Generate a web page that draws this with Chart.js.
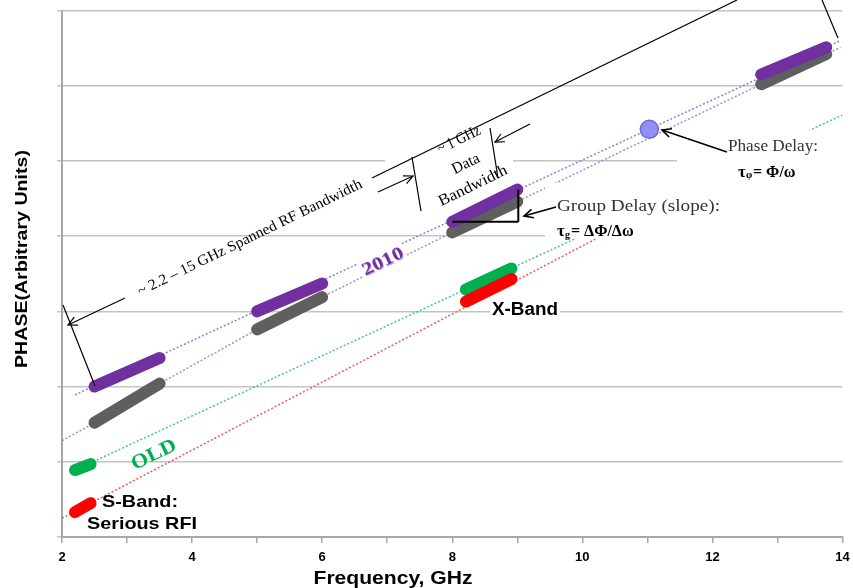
<!DOCTYPE html>
<html>
<head>
<meta charset="utf-8">
<script src="https://cdn.jsdelivr.net/npm/chart.js@4.4.1/dist/chart.umd.min.js"></script>
<style>
  html, body { margin: 0; padding: 0; background: #fff; }
  #wrap { width: 853px; height: 588px; }
</style>
</head>
<body>
<div id="wrap"><canvas id="chart" width="853" height="588"></canvas></div>
<script>
/* ─── Data (GHz / arbitrary phase units) ─────────────────────────────────── */
const bandStart   = [2.5, 5, 8, 12.75];
const bandEnd     = [3.5, 6, 9, 13.75];
const phase2010Lo = [2.0, 3.0, 4.19, 6.15];
const phase2010Hi = [2.38, 3.37, 4.62, 6.51];
const phaseGreyLo = [1.52, 2.76, 4.05, 6.02];
const phaseGreyHi = [2.04, 3.19, 4.46, 6.42];

const oldStart    = [2.2, 8.21];
const oldEnd      = [2.44, 8.91];
const oldGreenLo  = [0.89, 3.29];
const oldGreenHi  = [0.97, 3.57];
const oldRedLo    = [0.33, 3.13];
const oldRedHi    = [0.45, 3.43];

// thin dotted guide lines
const fit2010X  = [2.2, 13.97];
const fit2010Y  = [1.89, 6.60];
const fitGreyX  = [2.0, 2.5, 3.5, 5, 6, 8, 9, 12.75, 13.75, 13.97];
const fitGreyY  = [1.28, 1.52, 2.04, 2.76, 3.19, 4.05, 4.46, 6.02, 6.42, 6.51];
const fitGreenX = [2.2, 14];
const fitGreenY = [0.89, 5.61];
const fitRedX   = [2.0, 12.3];
const fitRedY   = [0.25, 4.91];

const phasePointX = [11.03];
const phasePointY = [5.42];

const xTickLabels = [2, 4, 6, 8, 10, 12, 14];

/* ─── Colours / fonts ────────────────────────────────────────────────────── */
const PURPLE = '#7030a0';
const GREY   = '#5f5f5f';
const GREEN  = '#00b050';
const RED    = '#ff0000';
const SANS   = "'Liberation Sans', Arial, sans-serif";
const SERIF  = "'Liberation Serif', 'Times New Roman', serif";
const SLANT  = -26 * Math.PI / 180;

const pts = (xs, ys) => xs.map((x, i) => ({ x, y: ys[i] }));

function bar(x0, x1, y0, y1, color) {
  return {
    data: [{ x: x0, y: y0 }, { x: x1, y: y1 }],
    borderColor: color,
    borderWidth: 12,
    borderCapStyle: 'round',
    pointRadius: 0,
    showLine: true,
    order: 1,
  };
}

function guide(xs, ys, color) {
  return {
    data: pts(xs, ys),
    borderColor: color,
    borderWidth: 1.5,
    borderDash: [2, 2],
    pointRadius: 0,
    showLine: true,
    order: 2,
  };
}

const datasets = [];
bandStart.forEach((x, i) => datasets.push(bar(x, bandEnd[i], phase2010Lo[i], phase2010Hi[i], PURPLE)));
bandStart.forEach((x, i) => datasets.push(bar(x, bandEnd[i], phaseGreyLo[i], phaseGreyHi[i], GREY)));
oldStart.forEach((x, i) => datasets.push(bar(x, oldEnd[i], oldRedLo[i], oldRedHi[i], RED)));
oldStart.forEach((x, i) => datasets.push(bar(x, oldEnd[i], oldGreenLo[i], oldGreenHi[i], GREEN)));
datasets.push(guide(fit2010X, fit2010Y, '#8a80d8'));
datasets.push(guide(fitGreyX, fitGreyY, '#a98cc4'));
datasets.push(guide(fitGreenX, fitGreenY, '#45c3a5'));
datasets.push(guide(fitRedX, fitRedY, '#ec5b5b'));
datasets.push({
  data: pts(phasePointX, phasePointY),
  pointRadius: 9,
  backgroundColor: '#8f8ff7',
  borderColor: '#6b6bd9',
  borderWidth: 1.5,
  showLine: false,
  order: 0,
});

/* ─── Drawing helpers ────────────────────────────────────────────────────── */
function label(ctx, text, x, y, opt) {
  ctx.save();
  ctx.font = opt.font;
  ctx.fillStyle = opt.color || '#000';
  ctx.textBaseline = opt.baseline || 'alphabetic';
  ctx.textAlign = 'left';
  ctx.translate(x, y);
  if (opt.angle) ctx.rotate(opt.angle);
  const w = ctx.measureText(text).width;
  if (opt.width) ctx.scale(opt.width / w, 1);
  const dx = opt.align === 'center' ? -w / 2 : opt.align === 'right' ? -w : 0;
  if (opt.shadow) {
    ctx.shadowColor = opt.shadow;
    ctx.shadowOffsetX = 1;
    ctx.shadowOffsetY = 1;
    ctx.shadowBlur = 1;
  }
  ctx.fillText(text, dx, 0);
  ctx.restore();
}

function line(ctx, x1, y1, x2, y2, w) {
  ctx.save();
  ctx.strokeStyle = '#000';
  ctx.lineWidth = w || 1.2;
  ctx.beginPath();
  ctx.moveTo(x1, y1);
  ctx.lineTo(x2, y2);
  ctx.stroke();
  ctx.restore();
}

function arrow(ctx, x1, y1, x2, y2, w) {
  line(ctx, x1, y1, x2, y2, w);
  const a = Math.atan2(y2 - y1, x2 - x1);
  const len = 10, spread = 0.45;
  ctx.save();
  ctx.strokeStyle = '#000';
  ctx.lineWidth = w || 1.2;
  ctx.beginPath();
  ctx.moveTo(x2 - len * Math.cos(a - spread), y2 - len * Math.sin(a - spread));
  ctx.lineTo(x2, y2);
  ctx.lineTo(x2 - len * Math.cos(a + spread), y2 - len * Math.sin(a + spread));
  ctx.stroke();
  ctx.restore();
}

function whiteBox(ctx, cx, cy, w, h, angle) {
  ctx.save();
  ctx.fillStyle = '#fff';
  ctx.translate(cx, cy);
  if (angle) ctx.rotate(angle);
  ctx.fillRect(-w / 2, -h / 2, w, h);
  ctx.restore();
}

/* ─── Annotation plugin ──────────────────────────────────────────────────── */
let boxesDrawn = false;
const annotations = {
  id: 'annotations',
  beforeDatasetsDraw() { boxesDrawn = false; },
  // text boxes sit above the dotted guides & gridlines, under the bands
  beforeDatasetDraw(chart, args) {
    if (boxesDrawn || chart.data.datasets[args.index].order !== 1) return;
    boxesDrawn = true;
    const ctx = chart.ctx;
    whiteBox(ctx, 449, 165, 128, 94);          // ~1 GHz data bandwidth
    whiteBox(ctx, 699, 211, 308, 56);          // group delay
    whiteBox(ctx, 765, 161, 176, 62);          // phase delay
    whiteBox(ctx, 525, 309, 70, 18);           // X-Band
    whiteBox(ctx, 383, 262, 48, 20, SLANT);    // 2010
  },
  afterDatasetsDraw(chart) {
    const ctx = chart.ctx;
    const x = chart.scales.x, y = chart.scales.y;

    // spanned RF bandwidth dimension line
    line(ctx, 63, 305, 95, 386);
    arrow(ctx, 125, 298, 68, 325);
    line(ctx, 372, 178, 737, 0);
    line(ctx, 822, 0, 838, 38);
    label(ctx, '~ 2.2 – 15 GHz Spanned RF Bandwidth', 250, 238,
      { font: `15px ${SERIF}`, angle: SLANT, align: 'center', baseline: 'middle', width: 248 });

    // ~1 GHz data bandwidth
    line(ctx, 412, 157, 421, 211);
    line(ctx, 490, 128, 498, 178);
    arrow(ctx, 378, 192, 413, 176);
    arrow(ctx, 530, 124, 495, 142);
    const dataFont = `16px ${SERIF}`;
    label(ctx, '~ 1 GHz', 459, 140, { font: dataFont, angle: SLANT, align: 'center', baseline: 'middle', width: 46 });
    label(ctx, 'Data', 466, 164, { font: dataFont, angle: SLANT, align: 'center', baseline: 'middle', width: 29 });
    label(ctx, 'Bandwidth', 473, 186, { font: dataFont, angle: SLANT, align: 'center', baseline: 'middle', width: 75 });

    // group delay slope triangle on the 8-9 GHz band
    const gx0 = x.getPixelForValue(bandStart[2]);
    const gx1 = x.getPixelForValue(bandEnd[2]);
    const gy0 = y.getPixelForValue(phase2010Lo[2]);
    const gy1 = y.getPixelForValue(phase2010Hi[2]);
    line(ctx, gx0, gy0, gx1 + 1, gy0, 2);
    line(ctx, gx1 + 1, gy0, gx1 + 1, gy1, 2);
    arrow(ctx, 556, 207, 524, 216, 1.6);
    label(ctx, 'Group Delay (slope):', 557, 211, { font: `16px ${SERIF}`, color: '#333', width: 163 });
    ctx.save();
    ctx.fillStyle = '#000';
    ctx.font = `bold 17px ${SERIF}`;
    ctx.fillText('τ', 557, 236);
    ctx.font = `bold 10px ${SERIF}`;
    ctx.fillText('g', 565, 238);
    ctx.font = `bold 16px ${SERIF}`;
    ctx.fillText('= ΔΦ/Δω', 571, 236);
    ctx.restore();

    // phase delay
    arrow(ctx, 727, 152, 662, 130, 1.6);
    label(ctx, 'Phase Delay:', 728, 151, { font: `16px ${SERIF}`, color: '#333', width: 90 });
    ctx.save();
    ctx.fillStyle = '#000';
    ctx.font = `bold 17px ${SERIF}`;
    ctx.fillText('τ', 738, 177);
    ctx.font = `bold 10px ${SERIF}`;
    ctx.fillText('φ', 746, 178);
    ctx.font = `bold 16px ${SERIF}`;
    ctx.fillText('= Φ/ω', 753, 177);
    ctx.restore();

    // series labels
    label(ctx, '2010', 383, 262, { font: `bold 18px ${SERIF}`, color: PURPLE, angle: SLANT, align: 'center',
      baseline: 'middle', width: 44, shadow: 'rgba(80,40,120,0.45)' });
    label(ctx, 'OLD', 154, 455, { font: `bold 20px ${SERIF}`, color: GREEN, angle: SLANT, align: 'center',
      baseline: 'middle', width: 48 });
    label(ctx, 'X-Band', 525, 315, { font: `bold 18px ${SANS}`, align: 'center', width: 66 });
    label(ctx, 'S-Band:', 102, 507, { font: `bold 17px ${SANS}`, width: 76 });
    label(ctx, 'Serious RFI', 87, 529, { font: `bold 17px ${SANS}`, width: 110 });

    // axis titles
    label(ctx, 'PHASE(Arbitrary Units)', 22, 259, { font: `bold 17px ${SANS}`, angle: -Math.PI / 2,
      align: 'center', baseline: 'middle', width: 218 });
    label(ctx, 'Frequency, GHz', 393, 584, { font: `bold 19px ${SANS}`, align: 'center', width: 159 });
  },
};

/* ─── Chart ──────────────────────────────────────────────────────────────── */
new Chart(document.getElementById('chart'), {
  type: 'scatter',
  data: { datasets },
  plugins: [annotations],
  options: {
    responsive: false,
    animation: false,
    events: [],
    layout: { padding: { top: 8, right: 8, left: 0, bottom: 0 } },
    plugins: { legend: { display: false }, tooltip: { enabled: false } },
    scales: {
      x: {
        type: 'linear',
        min: 2,
        max: 14,
        afterFit: s => { s.height = 51; s.paddingLeft = 0; s.paddingRight = 0; },
        ticks: {
          stepSize: 1,
          autoSkip: false,
          maxRotation: 0,
          padding: 7,
          color: '#000',
          font: { family: SANS, size: 13, weight: 'bold' },
          callback: v => (xTickLabels.includes(v) ? String(v) : ''),
        },
        grid: { drawOnChartArea: false, drawTicks: true, tickLength: 6, color: '#a6a6a6', lineWidth: 1.5 },
        border: { color: '#a6a6a6', width: 2 },
      },
      y: {
        type: 'linear',
        min: 0,
        max: 7,
        afterFit: s => { s.width = 62; s.paddingTop = 0; s.paddingBottom = 0; },
        ticks: { stepSize: 1, display: false },
        grid: { color: '#c3c3c3', lineWidth: 1.5, tickLength: 5 },
        border: { color: '#a6a6a6', width: 2 },
      },
    },
  },
});
</script>
</body>
</html>
